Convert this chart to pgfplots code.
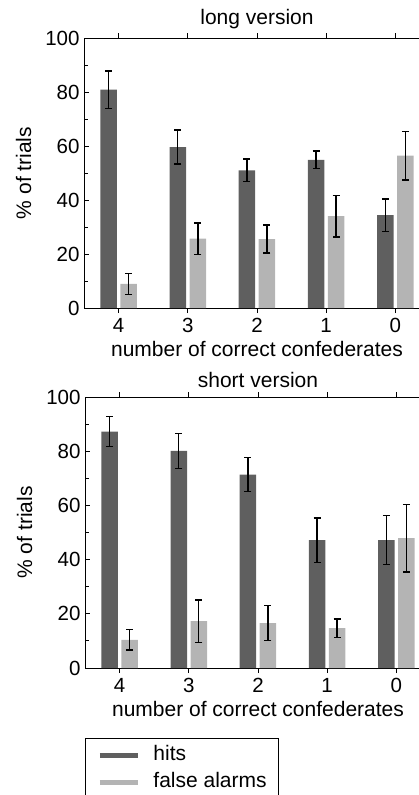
\documentclass[border=0pt]{standalone}
\usepackage{fontspec}
\setmainfont{Liberation Sans}
\usepackage{pgfplots}
\pgfplotsset{compat=1.18}

\definecolor{hitcol}{RGB}{95,95,95}
\definecolor{facol}{RGB}{180,180,180}

% hits / false alarms, categories 4..0 plotted at x = 0..4
\pgfplotstableread{
x hit hiterr fa faerr
0 80.9 6.9 8.9 3.9
1 59.6 6.3 25.7 5.8
2 51.0 4.2 25.5 5.2
3 54.9 3.2 34.0 7.7
4 34.4 6.0 56.4 9.0
}\longdata
\pgfplotstableread{
x hit hiterr fa faerr
0 87.2 5.5 10.4 3.8
1 80.1 6.5 17.3 7.8
2 71.4 6.2 16.6 6.4
3 47.2 8.2 14.7 3.4
4 47.2 9.0 47.9 12.5
}\shortdata

\pgfplotsset{
  panel/.style={
    scale only axis,
    width=346pt, height=270pt,
    anchor=south west,
    xmin=-0.5, xmax=4.5,
    ymin=0, ymax=100,
    xtick={0,1,2,3,4},
    xticklabels={4,3,2,1,0},
    ytick={0,20,40,60,80,100},
    minor y tick num=1,
    tick align=inside,
    major tick length=5pt,
    minor tick length=4pt,
    axis line style={line width=0.9pt},
    every tick/.style={black, line width=0.9pt},
    /pgf/number format/assume math mode=true,
    tick label style={font=\fontsize{20.5}{24}\selectfont},
    xticklabel style={yshift=-2pt},
    yticklabel style={xshift=-1pt},
    label style={font=\fontsize{21}{25}\selectfont},
    title style={font=\fontsize{21}{25}\selectfont},
    xlabel={number of correct confederates},
    ylabel={\% of trials},
    xlabel style={yshift=-1pt},
    ylabel style={yshift=7pt},
    ybar, bar width=16.5pt,
    error bars/error bar style={black, line width=1.4pt},
    error bars/error mark options={black, line width=1.4pt, mark size=3.5pt, rotate=90},
  },
  hitstyle/.style={fill=hitcol, draw=none, bar shift=-10pt,
    error bars/.cd, y dir=both, y explicit, /pgfplots/.cd},
  fastyle/.style={fill=facol, draw=none, bar shift=10pt,
    error bars/.cd, y dir=both, y explicit, /pgfplots/.cd},
}

\begin{document}
\begin{tikzpicture}
\path[use as bounding box] (0,0) rectangle (419pt,-795pt);
\clip (0,0) rectangle (419pt,-795pt);

\begin{axis}[panel, at={(84pt,-308pt)}, title={long version}]
\addplot[hitstyle] table[x=x, y=hit, y error=hiterr] {\longdata};
\addplot[fastyle] table[x=x, y=fa, y error=faerr] {\longdata};
\end{axis}

\begin{axis}[panel, at={(85pt,-668pt)}, height=271pt, title={short version},
  legend style={at={(0,-0.257)}, anchor=north west, draw=black, line width=0.9pt,
    font=\fontsize{21}{25}\selectfont, inner xsep=12pt, inner ysep=4pt,
    row sep=0pt,
    /tikz/every odd column/.style={column sep=13pt},
    /tikz/every even column/.style={column sep=0pt},
    nodes={inner xsep=0pt, inner ysep=3.5pt, text height=15pt, text depth=5pt}},
  legend cell align=left]
\addplot[forget plot, hitstyle] table[x=x, y=hit, y error=hiterr] {\shortdata};
\addplot[forget plot, fastyle] table[x=x, y=fa, y error=faerr] {\shortdata};
\addlegendimage{legend image code/.code={
  \draw[line width=5pt, hitcol] (0pt,0pt) -- (38pt,0pt);}}
\addlegendentry{hits}
\addlegendimage{legend image code/.code={
  \draw[line width=5pt, facol] (0pt,0pt) -- (38pt,0pt);}}
\addlegendentry{false alarms}
\end{axis}
\end{tikzpicture}
\end{document}
